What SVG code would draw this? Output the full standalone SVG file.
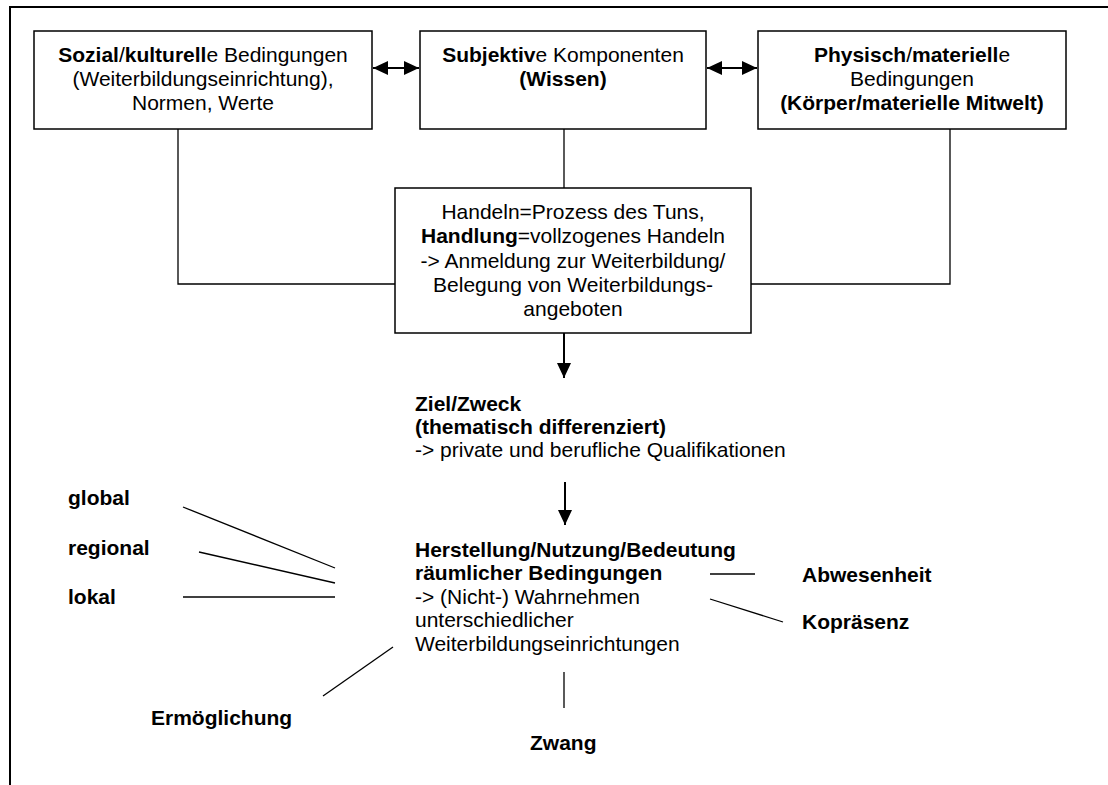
<svg xmlns="http://www.w3.org/2000/svg" width="1108" height="785" viewBox="0 0 1108 785">
  <defs>
    <marker id="head" viewBox="0 0 15 14" refX="15" refY="7" markerWidth="15" markerHeight="14" markerUnits="userSpaceOnUse" orient="auto-start-reverse">
      <path d="M0,0 L15,7 L0,14 Z" fill="#000"/>
    </marker>
    <style>
      text { font-family: "Liberation Sans", Arial, sans-serif; font-size: 21px; fill: #000; }
      .b { font-weight: bold; }
      .c { text-anchor: middle; }
      .box { fill: #fff; stroke: #000; stroke-width: 1.5; }
      .ln { fill: none; stroke: #000; stroke-width: 1.3; }
      .arr { fill: none; stroke: #000; stroke-width: 2; }
      .frame { fill: none; stroke: #000; stroke-width: 2; }
    </style>
  </defs>
  <rect width="1108" height="785" fill="#fff"/>

  <!-- page frame (top and left edge only) -->
  <path class="frame" d="M10,785 V7 H1108"/>

  <g id="connectors">
    <line class="arr" x1="373" y1="68" x2="419" y2="68" marker-start="url(#head)" marker-end="url(#head)"/>
    <line class="arr" x1="707" y1="68" x2="757" y2="68" marker-start="url(#head)" marker-end="url(#head)"/>
    <polyline class="ln" points="178,129 178,284 395,284"/>
    <line class="ln" x1="564" y1="129" x2="564" y2="188"/>
    <polyline class="ln" points="950,129 950,284 751,284"/>
    <line class="arr" x1="564" y1="333" x2="564" y2="378" marker-end="url(#head)"/>
    <line class="arr" x1="565" y1="482" x2="565" y2="525" marker-end="url(#head)"/>
    <line class="ln" x1="183" y1="507" x2="335" y2="568"/>
    <line class="ln" x1="199" y1="552" x2="335" y2="583"/>
    <line class="ln" x1="183" y1="597" x2="335" y2="597"/>
    <line class="ln" x1="393" y1="647" x2="323" y2="696"/>
    <line class="ln" x1="710" y1="574" x2="755" y2="574"/>
    <line class="ln" x1="710" y1="599" x2="783" y2="622"/>
    <line class="ln" x1="564" y1="672" x2="564" y2="708"/>
  </g>

  <g id="sozial">
    <rect class="box" x="34" y="31" width="338" height="98"/>
    <text class="c" x="203" y="62"><tspan class="b">Sozial</tspan>/<tspan class="b">kulturell</tspan>e Bedingungen</text>
    <text class="c" x="203" y="86">(Weiterbildungseinrichtung),</text>
    <text class="c" x="203" y="110">Normen, Werte</text>
  </g>

  <g id="subjektiv">
    <rect class="box" x="420" y="31" width="286" height="98"/>
    <text class="c" x="563" y="62"><tspan class="b">Subjektiv</tspan>e Komponenten</text>
    <text class="c b" x="563" y="86">(Wissen)</text>
  </g>

  <g id="physisch">
    <rect class="box" x="758" y="31" width="308" height="98"/>
    <text class="c" x="912" y="62"><tspan class="b">Physisch</tspan>/<tspan class="b">materiell</tspan>e</text>
    <text class="c" x="912" y="86">Bedingungen</text>
    <text class="c b" x="912" y="110">(Körper/materielle Mitwelt)</text>
  </g>

  <g id="handeln">
    <rect class="box" x="395" y="188" width="356" height="145"/>
    <text class="c" x="573" y="219">Handeln=Prozess des Tuns,</text>
    <text class="c" x="573" y="243"><tspan class="b">Handlung</tspan>=vollzogenes Handeln</text>
    <text class="c" x="573" y="268">-&gt; Anmeldung zur Weiterbildung/</text>
    <text class="c" x="573" y="292">Belegung von Weiterbildungs-</text>
    <text class="c" x="573" y="316">angeboten</text>
  </g>

  <g id="ziel">
    <text class="b" x="415" y="411">Ziel/Zweck</text>
    <text class="b" x="415" y="434">(thematisch differenziert)</text>
    <text x="415" y="457">-&gt; private und berufliche Qualifikationen</text>
  </g>

  <g id="herstellung">
    <text class="b" x="415" y="557">Herstellung/Nutzung/Bedeutung</text>
    <text class="b" x="415" y="580">räumlicher Bedingungen</text>
    <text x="415" y="604">-&gt; (Nicht-) Wahrnehmen</text>
    <text x="415" y="627">unterschiedlicher</text>
    <text x="415" y="651">Weiterbildungseinrichtungen</text>
  </g>

  <g id="global"><text class="b" x="68" y="505">global</text></g>
  <g id="regional"><text class="b" x="68" y="555">regional</text></g>
  <g id="lokal"><text class="b" x="68" y="604">lokal</text></g>
  <g id="abwesenheit"><text class="b" x="802" y="582">Abwesenheit</text></g>
  <g id="kopraesenz"><text class="b" x="802" y="629">Kopräsenz</text></g>
  <g id="ermoeglichung"><text class="b" x="151" y="725">Ermöglichung</text></g>
  <g id="zwang"><text class="b" x="530" y="750">Zwang</text></g>
</svg>
